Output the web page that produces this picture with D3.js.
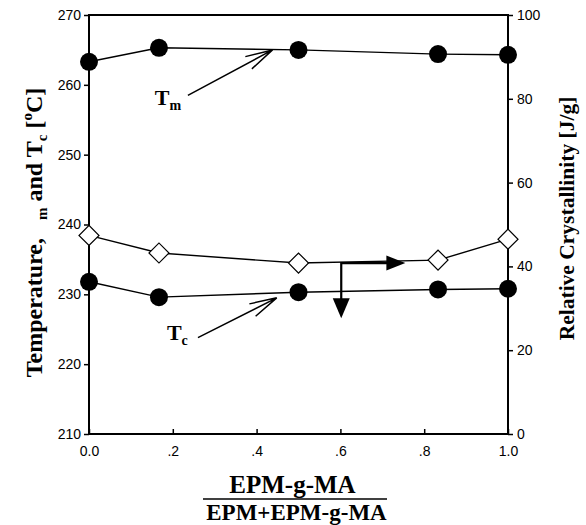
<!DOCTYPE html>
<html>
<head>
<meta charset="utf-8">
<script src="https://cdn.jsdelivr.net/npm/d3@7"></script>
<style>
  body { margin: 0; background: #fff; }
  .tick text { font-family: "Liberation Sans", Arial, sans-serif; font-size: 14px; fill: #000; }
  .lbl { font-family: "Liberation Serif", "Times New Roman", serif; font-weight: bold; fill: #000; }
</style>
</head>
<body>
<div id="chart"></div>
<script>
// data
const fraction = [0, 0.167, 0.5, 0.833, 1.0];
const tm = [263.3, 265.3, 265.0, 264.4, 264.3];
const tc = [231.8, 229.6, 230.3, 230.7, 230.8];
const crystallinity = [47.4, 43.2, 40.8, 41.5, 46.5];

const xTicks = [0, 0.2, 0.4, 0.6, 0.8, 1.0];
const leftTicks = [210, 220, 230, 240, 250, 260, 270];
const rightTicks = [0, 20, 40, 60, 80, 100];

// annotations in data units: [x, y]
const tmArrow = [[0.236, 258.5], [0.438, 265.0]];
const tmLabel = [0.157, 257.1];
const tcArrow = [[0.26, 223.8], [0.448, 229.5]];
const tcLabel = [0.186, 223.5];
const axisPointer = { corner: [0.602, 40.8], right: 0.755, down: 27.6 };

const width = 586, height = 525;
const margin = { left: 89, right: 78, top: 15, bottom: 91 };

const svg = d3.select('#chart').append('svg')
    .attr('width', width)
    .attr('height', height);

const x = d3.scaleLinear([0, 1], [margin.left, width - margin.right]);
const yL = d3.scaleLinear([210, 270], [height - margin.bottom, margin.top]);
const yR = d3.scaleLinear([0, 100], [height - margin.bottom, margin.top]);

const fmtX = d => (d === 0 || d === 1) ? d.toFixed(1) : d3.format('.1f')(d).replace(/^0/, '');

// axes
svg.append('g')
    .attr('transform', `translate(0,${height - margin.bottom})`)
    .call(d3.axisBottom(x).tickValues(xTicks).tickFormat(fmtX)
        .tickSizeInner(-5).tickSizeOuter(0).tickPadding(12))
    .call(g => g.select('.domain').remove());

svg.append('g')
    .attr('transform', `translate(${margin.left},0)`)
    .call(d3.axisLeft(yL).tickValues(leftTicks).tickSizeOuter(0).tickSize(5).tickPadding(3))
    .call(g => g.select('.domain').remove());

svg.append('g')
    .attr('transform', `translate(${width - margin.right},0)`)
    .call(d3.axisRight(yR).tickValues(rightTicks).tickSizeOuter(0).tickSize(5).tickPadding(4))
    .call(g => g.select('.domain').remove());

svg.selectAll('.tick line').attr('stroke-width', 1.5);

svg.append('rect')
    .attr('x', x(0)).attr('y', yL(270))
    .attr('width', x(1) - x(0)).attr('height', yL(210) - yL(270))
    .attr('fill', 'none')
    .attr('stroke', '#000')
    .attr('stroke-width', 2);

// lines
const lineL = d3.line().x((d, i) => x(fraction[i])).y(d => yL(d));
const lineR = d3.line().x((d, i) => x(fraction[i])).y(d => yR(d));

[tm, tc].forEach(s => svg.append('path')
    .attr('d', lineL(s)).attr('fill', 'none').attr('stroke', '#000').attr('stroke-width', 1.4));
svg.append('path')
    .attr('d', lineR(crystallinity)).attr('fill', 'none').attr('stroke', '#000').attr('stroke-width', 1.4);

// axis pointer arrows (filled heads)
const c = axisPointer.corner;
const cx0 = x(c[0]), cy0 = yR(c[1]);
const tipR = x(axisPointer.right), tipD = yR(axisPointer.down);
svg.append('path')
    .attr('d', `M${cx0 - 1},${cy0}H${tipR - 15}M${cx0},${cy0}V${tipD - 16}`)
    .attr('fill', 'none').attr('stroke', '#000').attr('stroke-width', 2.2);
svg.append('path')
    .attr('d', `M${tipR},${cy0}L${tipR - 19},${cy0 - 7.5}L${tipR - 19},${cy0 + 7.5}Z`)
    .attr('fill', '#000');
svg.append('path')
    .attr('d', `M${cx0},${tipD}L${cx0 - 8.5},${tipD - 20}L${cx0 + 8.5},${tipD - 20}Z`)
    .attr('fill', '#000');

// markers
const diamond = d3.symbol(d3.symbolSquare, 200);
svg.selectAll('.dia').data(crystallinity).join('path')
    .attr('class', 'dia')
    .attr('d', diamond)
    .attr('transform', (d, i) => `translate(${x(fraction[i])},${yR(d)}) rotate(45)`)
    .attr('fill', '#fff').attr('stroke', '#000').attr('stroke-width', 1.2);

[tm, tc].forEach(s => svg.append('g').selectAll('circle').data(s).join('circle')
    .attr('cx', (d, i) => x(fraction[i]))
    .attr('cy', d => yL(d))
    .attr('r', 9)
    .attr('fill', '#000'));

// annotations with open arrowheads
[tmArrow, tcArrow].forEach(a => {
    const x1 = x(a[0][0]), y1 = yL(a[0][1]);
    const x2 = x(a[1][0]), y2 = yL(a[1][1]);
    const ang = Math.atan2(y1 - y2, x1 - x2);
    const len = 28, spread = 0.25;
    const b1 = [x2 + len * Math.cos(ang + spread), y2 + len * Math.sin(ang + spread)];
    const b2 = [x2 + len * Math.cos(ang - spread), y2 + len * Math.sin(ang - spread)];
    svg.append('path')
        .attr('d', `M${x1},${y1}L${x2},${y2}M${b1[0]},${b1[1]}L${x2},${y2}L${b2[0]},${b2[1]}`)
        .attr('fill', 'none').attr('stroke', '#000').attr('stroke-width', 1.5);
});

[[tmLabel, 'm'], [tcLabel, 'c']].forEach(([p, sub]) => {
    const t = svg.append('text').attr('class', 'lbl')
        .attr('x', x(p[0])).attr('y', yL(p[1]))
        .style('font-size', '22px');
    t.append('tspan').text('T');
    t.append('tspan').attr('dy', 5).style('font-size', '14px').text(sub);
});

// left axis title
const lt = svg.append('text').attr('class', 'lbl')
    .attr('transform', `translate(42,${(yL(210) + yL(270)) / 2 + 8}) rotate(-90)`)
    .attr('text-anchor', 'middle')
    .style('font-size', '24px');
lt.append('tspan').text('Temperature,\u00a0\u00a0\u00a0');
lt.append('tspan').attr('dy', 5).style('font-size', '15px').text('m');
lt.append('tspan').attr('dy', -5).text(' and T');
lt.append('tspan').attr('dy', 5).style('font-size', '15px').text('c');
lt.append('tspan').attr('dy', -5).text(' [');
lt.append('tspan').attr('dy', -10).style('font-size', '15px').text('o');
lt.append('tspan').attr('dy', 10).text('C]');

// right axis title
svg.append('text').attr('class', 'lbl')
    .attr('transform', `translate(574,${(yR(0) + yR(100)) / 2 - 6}) rotate(-90)`)
    .attr('text-anchor', 'middle')
    .style('font-size', '21.5px')
    .text('Relative Crystallinity [J/g]');

// x axis title as a fraction
const cx = (x(0) + x(1)) / 2;
svg.append('text').attr('class', 'lbl')
    .attr('x', cx - 6).attr('y', 493)
    .attr('text-anchor', 'middle')
    .style('font-size', '25px')
    .text('EPM-g-MA');
svg.append('line')
    .attr('x1', 203).attr('x2', 387)
    .attr('y1', 499).attr('y2', 499)
    .attr('stroke', '#000').attr('stroke-width', 1.5);
svg.append('text').attr('class', 'lbl')
    .attr('x', cx - 2).attr('y', 520)
    .attr('text-anchor', 'middle')
    .style('font-size', '23px')
    .text('EPM+EPM-g-MA');
</script>
</body>
</html>
